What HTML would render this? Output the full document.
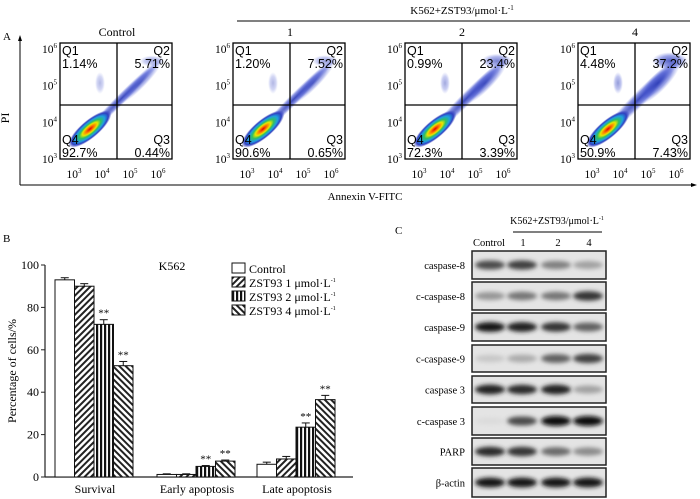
<!DOCTYPE html>
<html><head><meta charset="utf-8"><style>
html,body{margin:0;padding:0;background:#fff}
svg{display:block;font-family:"Liberation Serif",serif}
</style></head><body>
<svg id="fig" width="700" height="499" viewBox="0 0 700 499" xmlns="http://www.w3.org/2000/svg">
<defs>
<radialGradient id="jet" cx="50%" cy="50%" r="50%">
<stop offset="0" stop-color="#e00000"/><stop offset="0.2" stop-color="#ff8000"/><stop offset="0.35" stop-color="#e8e800"/><stop offset="0.5" stop-color="#30c060"/><stop offset="0.68" stop-color="#20a0e0"/><stop offset="0.85" stop-color="#3040c0"/><stop offset="1" stop-color="#3040c0" stop-opacity="0"/>
</radialGradient>
<radialGradient id="blueg" cx="50%" cy="50%" r="50%">
<stop offset="0" stop-color="#2030b0" stop-opacity="0.9"/><stop offset="0.6" stop-color="#4050d0" stop-opacity="0.6"/><stop offset="1" stop-color="#6070e0" stop-opacity="0"/>
</radialGradient>
<pattern id="p1" width="4.5" height="4.5" patternUnits="userSpaceOnUse" patternTransform="rotate(45)"><rect width="4.5" height="4.5" fill="#fff"/><rect width="2" height="4.5" fill="#222"/></pattern>
<pattern id="p2" width="4" height="4" patternUnits="userSpaceOnUse"><rect width="4" height="4" fill="#fff"/><rect width="2.2" height="4" fill="#111"/></pattern>
<pattern id="p3" width="4.5" height="4.5" patternUnits="userSpaceOnUse" patternTransform="rotate(-45)"><rect width="4.5" height="4.5" fill="#fff"/><rect width="2" height="4.5" fill="#222"/></pattern>
<filter id="blur" x="-20%" y="-50%" width="140%" height="200%"><feGaussianBlur stdDeviation="2.2"/></filter>
</defs>

<!-- Panel A -->
<text x="3" y="40" font-size="11">A</text>
<line x1="237" y1="21" x2="690" y2="21" stroke="#000" stroke-width="1"/>
<text x="462" y="14" font-size="11" text-anchor="middle">K562+ZST93/μmol·L<tspan dy="-4" font-size="7">-1</tspan></text>
<line x1="20" y1="185" x2="20" y2="38" stroke="#000"/>
<polygon points="20,35 18,41 22,41" fill="#000"/>
<line x1="20" y1="185" x2="694" y2="185" stroke="#000"/>
<polygon points="697,185 691,183 691,187" fill="#000"/>
<text x="9" y="118" font-size="12" text-anchor="middle" transform="rotate(-90 9 118)">PI</text>
<text x="365" y="200" font-size="11" text-anchor="middle">Annexin V-FITC</text>
<g id="flow"></g>

<!-- Panel B -->
<text x="3" y="242" font-size="11">B</text>
<g id="barchart"></g>

<!-- Panel C -->
<text x="395" y="234" font-size="11">C</text>
<text x="557" y="224" font-size="10" text-anchor="middle">K562+ZST93/μmol·L<tspan dy="-4" font-size="6">-1</tspan></text>
<line x1="513" y1="232" x2="602" y2="232" stroke="#000"/>
<g id="blots"></g>
</svg>
<script>
// ---- Panel A data ----
const flowTitles = ["Control","1","2","4"];
const q1Vals = ["1.14%","1.20%","0.99%","4.48%"];
const q2Vals = ["5.71%","7.52%","23.4%","37.2%"];
const q3Vals = ["0.44%","0.65%","3.39%","7.43%"];
const q4Vals = ["92.7%","90.6%","72.3%","50.9%"];
const flowTicks = ["3","4","5","6"];

// ---- Panel B data ----
const categories = ["Survival","Early apoptosis","Late apoptosis"];
const seriesNames = ["Control","ZST93 1 μmol·L","ZST93 2 μmol·L","ZST93 4 μmol·L"];
const controlVals = [93, 1.2, 6];
const zst1Vals = [90, 1.2, 8.5];
const zst2Vals = [72, 5, 23.5];
const zst4Vals = [52.5, 7.5, 36.5];
const controlErr = [1, 0.3, 1];
const zst1Err = [1.2, 0.3, 1.2];
const zst2Err = [2.2, 0.4, 2];
const zst4Err = [2, 0.5, 2];
const sigMarks = [[0,0,1,1],[0,0,1,1],[0,0,1,1]];
const yTicks = [0,20,40,60,80,100];

// ---- Panel C data ----
const blotLabels = ["caspase-8","c-caspase-8","caspase-9","c-caspase-9","caspase 3","c-caspase 3","PARP","β-actin"];
const laneLabels = ["Control","1","2","4"];
const bandIntensity = [
 [0.7,0.75,0.45,0.3],
 [0.35,0.5,0.5,0.8],
 [0.95,0.9,0.8,0.6],
 [0.12,0.25,0.6,0.75],
 [0.9,0.85,0.9,0.3],
 [0.03,0.7,1,1],
 [0.85,0.8,0.55,0.4],
 [0.95,0.95,0.95,0.95]
];

const NS="http://www.w3.org/2000/svg";
function mk(tag,attrs,parent){const e=document.createElementNS(NS,tag);for(const k in attrs)e.setAttribute(k,attrs[k]);parent.appendChild(e);return e;}

// ---- Draw Panel A ----
const flow=document.getElementById('flow');
const boxX=[60,233,405,578], bw=112, by=43, bh=116;
const spread=[0.25,0.3,0.55,0.8];
flowTitles.forEach((t,i)=>{
  const g=mk('g',{},flow);
  
  
  const x0=boxX[i];
  const tt=mk('text',{x:x0+57,y:36,'font-size':12,'text-anchor':'middle'},g);tt.textContent=t;
  
  const qx=x0+57, qy=by+62;
  const s=spread[i];
  // streak along diagonal from core to Q2
  mk('ellipse',{cx:x0+62,cy:by+55,rx:58,ry:4+s*4,fill:'url(#blueg)',transform:`rotate(-45 ${x0+62} ${by+55})`},g);
  mk('ellipse',{cx:x0+80,cy:by+40,rx:30,ry:4+s*6,fill:'url(#blueg)',opacity:0.5+s*0.5,transform:`rotate(-45 ${x0+80} ${by+40})`},g);
  mk('ellipse',{cx:x0+92,cy:by+18,rx:10+s*10,ry:4+s*6,fill:'url(#blueg)',opacity:0.3+s*0.7},g);
  mk('ellipse',{cx:x0+40,cy:by+40,rx:5,ry:11,fill:'url(#blueg)',opacity:0.3+s*0.3},g);
  mk('ellipse',{cx:x0+30,cy:by+86,rx:27,ry:9,fill:'url(#jet)',transform:`rotate(-40 ${x0+30} ${by+86})`},g);
  mk('rect',{x:x0,y:by,width:bw,height:bh,fill:'none',stroke:'#000','stroke-width':1.3},g);
  mk('line',{x1:qx,y1:by,x2:qx,y2:by+bh,stroke:'#000','stroke-width':1.3},g);
  mk('line',{x1:x0,y1:qy,x2:x0+bw,y2:qy,stroke:'#000','stroke-width':1.3},g);
  const lab=(txt,x,y,anc,nm)=>{const e=mk('text',{x:x,y:y,'font-size':12.5,'font-family':'Liberation Sans, sans-serif','text-anchor':anc},g);e.textContent=txt;};
  lab('Q1',x0+2,by+12,'start','q1-label');lab(q1Vals[i],x0+2,by+25,'start','q1-value');
  lab('Q2',x0+bw-2,by+12,'end','q2-label');lab(q2Vals[i],x0+bw-2,by+25,'end','q2-value');
  lab('Q4',x0+2,by+bh-15,'start','q4-label');lab(q4Vals[i],x0+2,by+bh-2,'start','q4-value');
  lab('Q3',x0+bw-2,by+bh-15,'end','q3-label');lab(q3Vals[i],x0+bw-2,by+bh-2,'end','q3-value');
  flowTicks.forEach((tk,j)=>{
    const yy=by+bh-j*(bh-6)/3;
    const e=mk('text',{x:x0-3,y:yy+4,'font-size':11.5,'text-anchor':'end'},g);
    e.innerHTML='10<tspan dy="-5" font-size="7">'+tk+'</tspan>';
    
    const xx=x0+14+j*28;
    const f=mk('text',{x:xx,y:by+bh+19,'font-size':11.5,'text-anchor':'middle'},g);
    f.innerHTML='10<tspan dy="-5" font-size="7">'+tk+'</tspan>';
    
  });
});

// ---- Draw Panel B ----
const bc=document.getElementById('barchart');
const ax0=45, ay0=477, ayTop=265, axEnd=353;
const yS=v=>ay0-(v/100)*(ay0-ayTop);
const groupStart=[55,157,257], barW=19.5;
const fills=['#fff','url(#p1)','url(#p2)','url(#p3)'];
const allVals=[controlVals,zst1Vals,zst2Vals,zst4Vals];
const allErr=[controlErr,zst1Err,zst2Err,zst4Err];
const yl=mk('text',{x:16,y:371,'font-size':12,'text-anchor':'middle',transform:'rotate(-90 16 371)'},bc);
yl.textContent='Percentage of cells/%';

const kt=mk('text',{x:172,y:270,'font-size':12,'text-anchor':'middle'},bc);kt.textContent='K562';

mk('line',{x1:ax0,y1:ay0,x2:ax0,y2:ayTop,stroke:'#222','stroke-width':1.2},bc);
mk('line',{x1:ax0,y1:ay0,x2:axEnd,y2:ay0,stroke:'#222','stroke-width':1.2},bc);
yTicks.forEach(v=>{
  mk('line',{x1:ax0-4,y1:yS(v),x2:ax0,y2:yS(v),stroke:'#222'},bc);
  const e=mk('text',{x:ax0-6,y:yS(v)+4,'font-size':12,'text-anchor':'end'},bc);e.textContent=v;
  
});
categories.forEach((c,ci)=>{
  const e=mk('text',{x:groupStart[ci]+40,y:493,'font-size':12,'text-anchor':'middle'},bc);e.textContent=c;
  
  allVals.forEach((arr,si)=>{
    const x=groupStart[ci]+si*barW, y=yS(arr[ci]), h=ay0-y;
    const r=mk('rect',{x:x,y:y,width:barW,height:h,fill:fills[si],stroke:'#111','stroke-width':1},bc);
    
    const ey=yS(arr[ci]+allErr[si][ci]);
    mk('line',{x1:x+barW/2,y1:y,x2:x+barW/2,y2:ey,stroke:'#111'},bc);
    mk('line',{x1:x+barW/2-4,y1:ey,x2:x+barW/2+4,y2:ey,stroke:'#111'},bc);
    if(sigMarks[ci][si]){const s=mk('text',{x:x+barW/2,y:ey-3,'font-size':11,'text-anchor':'middle'},bc);s.textContent='**';
      }
  });
});
seriesNames.forEach((n,i)=>{
  const y=264+i*14;
  const r=mk('rect',{x:232,y:y-1,width:13,height:10,fill:fills[i],stroke:'#111'},bc);
  
  const t=mk('text',{x:249,y:y+9,'font-size':12},bc);
  t.innerHTML=n+(i>0?'<tspan dy="-5" font-size="6">-1</tspan>':'');
  
});

// ---- Draw Panel C ----
const bl=document.getElementById('blots');
const rowY=[251,282,313,345,376,407,438,468], rowH=[28,28,28,27,27,28,27,29];
const laneX=[489,523,558,589];
laneLabels.forEach((l,i)=>{const t=mk('text',{x:laneX[i],y:246,'font-size':10.5,'text-anchor':'middle'},bl);t.textContent=l;
  });
blotLabels.forEach((lab,r)=>{
  const g=mk('g',{},bl);
  
  const y=rowY[r],h=rowH[r];
  const t=mk('text',{x:465,y:y+h/2+4,'font-size':10.5,'text-anchor':'end'},g);t.textContent=lab;
  
  mk('rect',{x:472,y:y,width:134,height:h,fill:'#e4e4e4'},g);
  bandIntensity[r].forEach((v,i)=>{
    const cx=[490,522,556,588][i];
    const gray=Math.round(225-v*215);
    mk('ellipse',{cx:cx,cy:y+h/2,rx:15,ry:3.5+v*1.5,fill:`rgb(${gray},${gray},${gray})`,filter:'url(#blur)'},g);
  });
  mk('rect',{x:472,y:y,width:134,height:h,fill:'none',stroke:'#222','stroke-width':1.5},g);
});
</script>
</body></html>
